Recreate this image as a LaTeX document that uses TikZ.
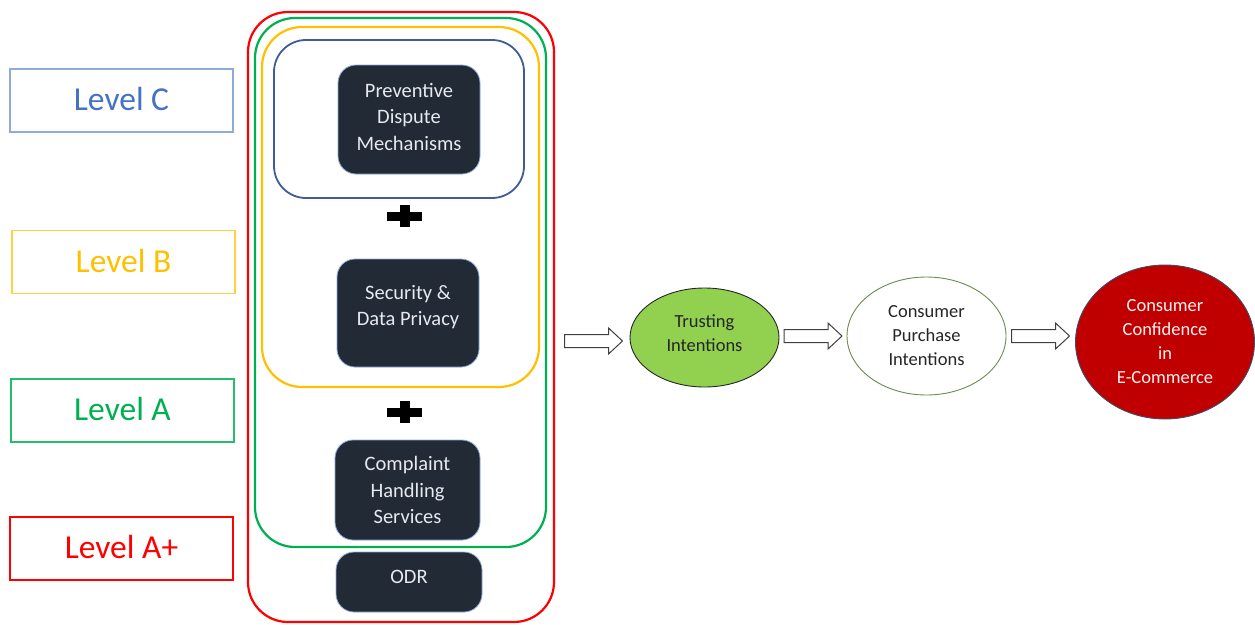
\documentclass[tikz,border=0pt]{standalone}
\usepackage{fontspec}
\setmainfont{Carlito}
\usetikzlibrary{shapes.geometric}

\definecolor{lvC}{HTML}{4472C4}
\definecolor{lvCline}{HTML}{8FAADC}
\definecolor{lvB}{HTML}{FFC000}
\definecolor{lvA}{HTML}{00B050}
\definecolor{lvAp}{HTML}{FF0000}
\definecolor{frameblue}{HTML}{3E5C9A}
\definecolor{darkfill}{HTML}{222A35}
\definecolor{darkline}{HTML}{8FAADC}
\definecolor{boxtext}{HTML}{E6EAF0}
\definecolor{trustfill}{HTML}{92D050}
\definecolor{purchline}{HTML}{6E8B4E}
\definecolor{conffill}{HTML}{C00000}
\definecolor{confline}{HTML}{3B4E6B}
\definecolor{arrowgray}{HTML}{404040}

\tikzset{
  levelbox/.style={draw=#1, line width=1.4pt, minimum width=223pt, minimum height=63pt,
    inner sep=0pt, font=\fontsize{33.5}{38}\selectfont},
  frame/.style={draw=#1, line width=2.2pt, rounded corners=40pt, inner sep=0pt},
  darkbox/.style={draw=darkline, line width=0.8pt, fill=darkfill, rounded corners=18pt,
    text=boxtext, align=center, inner sep=0pt, font=\fontsize{20.5}{26.5}\selectfont},
  boxlabel/.style={text=boxtext, align=center, inner sep=0pt, font=\fontsize{20.5}{26.5}\selectfont},
  oval/.style={ellipse, inner sep=0pt, align=center, font=\fontsize{18.5}{24}\selectfont},
  pics/hollowarrow/.style={code={
    \draw[draw=arrowgray, line width=1pt, fill=white, line join=miter]
      (0,-6.5) -- (44,-6.5) -- (44,-13) -- (58,0) -- (44,13) -- (44,6.5) -- (0,6.5) -- cycle;}},
  pics/plussign/.style={code={
    \fill[black] (-17.5,-4.5) rectangle (17.5,4.5);
    \fill[black] (-5,-11) rectangle (5,11);}}
}

\begin{document}
\begin{tikzpicture}[x=1pt, y=-1pt]
  \useasboundingbox (0,0) rectangle (1255,624);

  % level labels on the left
  \node[levelbox=lvCline, text=lvC] (lc)  at (121.5,100.5) {\raisebox{2.5pt}{Level C}};
  \node[levelbox=lvB!75,  text=lvB] (lb)  at (123.5,262)   {\raisebox{2.5pt}{Level B}};
  \node[levelbox=lvA!85,  text=lvA] (la)  at (122.5,410.5) {\raisebox{2.5pt}{Level A}};
  \node[levelbox=lvAp,    text=lvAp] (lap) at (121.5,548.5) {\raisebox{2.5pt}{Level A+}};

  % nested level frames
  \node[frame=lvAp, minimum width=306pt, minimum height=610pt] (fap) at (401,317) {};
  \node[frame=lvA,  minimum width=291pt, minimum height=529pt] (fa)  at (400.5,282.5) {};
  \node[frame=lvB,  minimum width=277pt, minimum height=360pt] (fb)  at (400.5,207) {};
  \node[frame=frameblue, line width=1.8pt, rounded corners=32pt,
        minimum width=250pt, minimum height=158pt] (fc) at (399,119) {};

  % component boxes (labels sit a little above centre)
  \node[darkbox, minimum width=142pt, minimum height=109pt] (pdm) at (409,119.5) {};
  \node[boxlabel] (pdmtext) at ([yshift=3pt]pdm.center) {Preventive\\Dispute\\Mechanisms};
  \node[darkbox, minimum width=142pt, minimum height=108pt] (sdp) at (408,313) {};
  \node[boxlabel] (sdptext) at ([yshift=6pt]sdp.center) {Security \&\\Data Privacy};
  \node[darkbox, minimum width=145pt, minimum height=100pt] (chs) at (407.5,490)
    {Complaint\\Handling\\Services};
  \node[darkbox, minimum width=146pt, minimum height=60pt] (odr) at (409,582) {};
  \node[boxlabel] (odrtext) at ([yshift=5pt]odr.center) {ODR};

  % plus signs between the components
  \pic at (404.5,216) {plussign};
  \pic at (404.5,412) {plussign};

  % outcome chain
  \node[oval, draw=black!85, line width=0.9pt, fill=trustfill,
        minimum width=149pt, minimum height=99pt] (ti) at (704.5,337.5) {};
  \node[oval, text=black!85] (titext) at ([yshift=4pt]ti.center) {Trusting\\Intentions};
  \node[oval, draw=purchline, line width=0.9pt, fill=white,
        minimum width=159pt, minimum height=118pt, text=black!85] (cp) at (926.5,336)
    {Consumer\\Purchase\\Intentions};
  \node[oval, draw=confline, line width=0.9pt, fill=conffill,
        minimum width=179pt, minimum height=154pt, text=white!95!red] (cc) at (1165,342)
    {Consumer\\Confidence\\in\\E-Commerce};

  % block arrows linking the stages
  \pic at (564.5,341) {hollowarrow};
  \pic at (784,336) {hollowarrow};
  \pic at (1011.5,336) {hollowarrow};
\end{tikzpicture}
\end{document}
